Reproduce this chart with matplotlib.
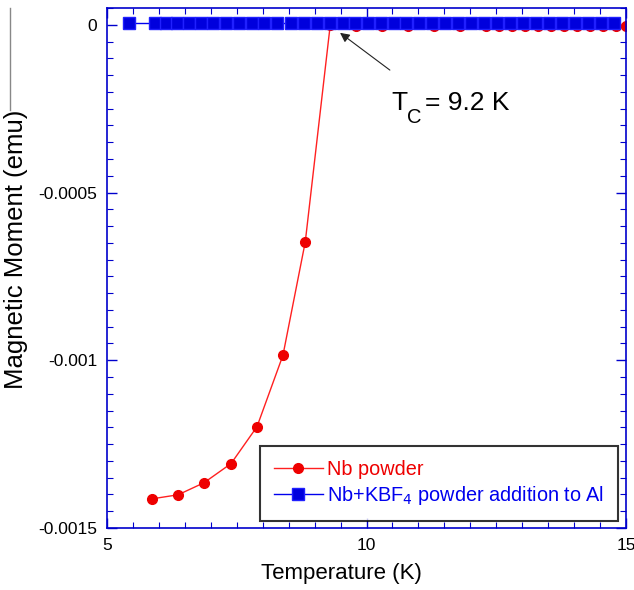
import numpy as np
import matplotlib
matplotlib.use("Agg")
import matplotlib.pyplot as plt
from matplotlib.ticker import MultipleLocator
from matplotlib.transforms import offset_copy

plt.rcParams['font.family'] = ['Liberation Sans', 'DejaVu Sans']

# Nb powder (red circles)
nb_T = [5.87, 6.37, 6.87, 7.39, 7.89, 8.39, 8.82, 9.30, 9.80, 10.30, 10.80,
        11.30, 11.80, 12.30, 12.55, 12.80, 13.05, 13.30, 13.55, 13.80, 14.05,
        14.30, 14.55, 14.80, 15.00]
nb_M = [-0.001413, -0.001401, -0.001365, -0.001308, -0.001198, -0.000985,
        -0.000647, -0.000002, -0.000003, -0.000003, -0.000003, -0.000003,
        -0.000003, -0.000003, -0.000003, -0.000003, -0.000003, -0.000003,
        -0.000003, -0.000003, -0.000003, -0.000003, -0.000003, -0.000003,
        -0.000003]

# Nb+KBF4 powder addition to Al (blue squares)
al_T = [5.42, 5.93, 6.13, 6.35, 6.58, 6.82, 7.05, 7.30, 7.55, 7.80, 8.03,
        8.28, 8.55, 8.80, 9.05, 9.30, 9.55, 9.78, 10.02, 10.28, 10.52, 10.77,
        11.02, 11.27, 11.52, 11.77, 12.02, 12.27, 12.52, 12.77, 13.02, 13.27,
        13.52, 13.77, 14.02, 14.27, 14.52, 14.77]
al_M = [0.000005] * len(al_T)

x_ticks = [5, 10, 15]
y_ticks = [0, -0.0005, -0.001, -0.0015]
y_labels = ['0', '-0.0005', '-0.001', '-0.0015']

fig = plt.figure(figsize=(6.34, 5.9), dpi=100)
ax = fig.add_axes([0.1688, 0.1051, 0.8186, 0.8813])

ax.plot(nb_T, nb_M, color='#ff2020', lw=1.0, marker='o', ms=7,
        mfc='#ee0000', mec='#ee0000', label='Nb powder', zorder=2)
ax.plot(al_T, al_M, color='#0000ee', lw=1.0, marker='s', ms=8.5,
        mfc='#0000dd', mec='#2020ff', label='Nb+KBF$_4$ powder addition to Al',
        zorder=3)

ax.set_xlim(5, 15)
ax.set_ylim(-0.0015, 0.00005)
ax.set_xticks(x_ticks)
ax.set_xticklabels([str(t) for t in x_ticks])
ax.set_yticks(y_ticks)
ax.set_yticklabels(y_labels)
ax.xaxis.set_minor_locator(MultipleLocator(0.5))
ax.yaxis.set_minor_locator(MultipleLocator(0.00005))

for s in ax.spines.values():
    s.set_color('#0000cc')
    s.set_linewidth(1.2)
ax.tick_params(which='both', direction='in', top=True, right=True,
               color='#0000cc', labelsize=12.5, labelcolor='black')
ax.tick_params(which='major', length=7, width=1.0, pad=7)
ax.tick_params(which='minor', length=4, width=0.8)

ax.set_xlabel('Temperature (K)', fontsize=16)
ax.set_ylabel('Magnetic Moment (emu)', fontsize=18.5)
ax.xaxis.set_label_coords(0.451, -0.068)
ax.yaxis.set_label_coords(-0.152, 0.535)

# T_C label (big subscript) and arrow
tx, ty = 10.47, -0.0002545
ax.text(tx, ty, 'T', fontsize=19, ha='left', va='baseline')
ax.text(tx, ty, 'C', fontsize=14.5, ha='left', va='baseline',
        transform=offset_copy(ax.transData, fig=fig, x=11.8, y=-9.4,
                              units='points'))
ax.text(tx, ty, '= 9.2 K', fontsize=19, ha='left', va='baseline',
        transform=offset_copy(ax.transData, fig=fig, x=24.3, y=0,
                              units='points'))
ax.annotate('', xy=(9.49, -0.000024), xytext=(10.45, -0.000135),
            arrowprops=dict(arrowstyle='-|>', color='#222222', lw=0.8,
                            shrinkA=0, shrinkB=0, mutation_scale=14))

leg = ax.legend(loc='lower right', fontsize=14.3, frameon=True, fancybox=False,
                borderaxespad=0, borderpad=0.7, handlelength=2.5,
                handletextpad=0.2, labelspacing=0.25,
                bbox_to_anchor=(0.985, 0.0135))
leg.get_frame().set_edgecolor('black')
leg.get_frame().set_linewidth(1.5)
leg.texts[0].set_color('#ee0000')
leg.texts[1].set_color('#0000ee')

fig.add_artist(plt.Line2D([0.0158, 0.0158], [0.986, 0.814], color='#888888',
                          lw=1.0, transform=fig.transFigure))

fig.savefig('out.png', dpi=100)
